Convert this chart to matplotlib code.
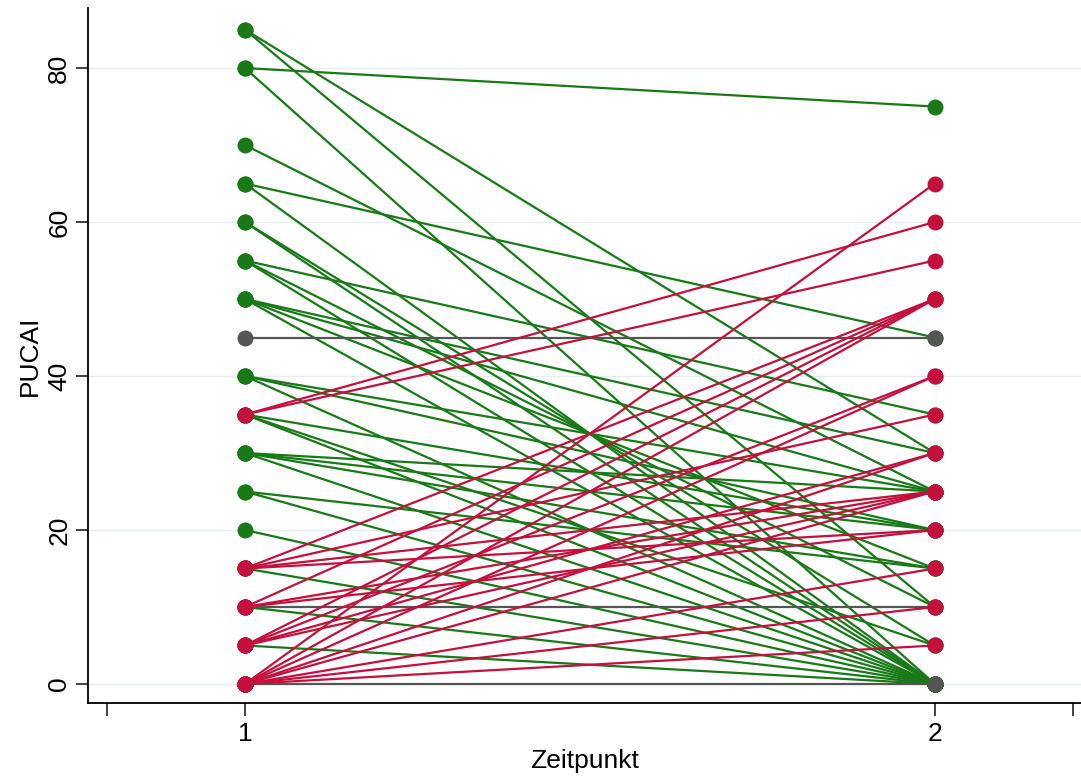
import numpy as np
import matplotlib
matplotlib.use("Agg")
import matplotlib.pyplot as plt

plt.rcParams['font.family'] = ['Liberation Sans', 'DejaVu Sans']

# PUCAI zum Zeitpunkt 1 und 2
# abnahme (grün)
gruen_t1 = [85, 85, 80, 80, 70, 65, 65, 60, 60, 55, 55, 55, 50, 50, 50, 50,
            40, 40, 40, 35, 35, 35, 30, 30, 30, 30, 25, 25, 20, 15, 10, 5]
gruen_t2 = [30, 10, 75, 0, 25, 45, 0, 5, 0, 35, 10, 0, 30, 25, 15, 0,
            25, 20, 0, 20, 5, 0, 25, 20, 15, 0, 15, 0, 0, 0, 0, 0]
# gleich (grau)
grau_t1 = [45, 10, 0]
grau_t2 = [45, 10, 0]
# zunahme (rot)
rot_t1 = [0, 0, 0, 0, 0, 0, 0, 0, 5, 5, 5, 5, 10, 10, 10, 15, 15, 15, 15, 35, 35]
rot_t2 = [65, 50, 40, 30, 25, 15, 10, 5, 50, 40, 30, 25, 50, 25, 20, 50, 35, 25, 20, 60, 55]

zeitpunkte = [1, 2]
yticks = [0, 20, 40, 60, 80]

c_gruen = '#177a17'
c_rot = '#c4103c'
c_grau = '#555555'

fig = plt.figure(figsize=(10.81, 7.82), dpi=100)
ax = fig.add_axes([88 / 1081, 79 / 782, 1 - 88 / 1081, (703 - 8) / 782])

for y in yticks:
    ax.axhline(y, color='#e4eef0', lw=1.0, zorder=0)

# reihenfolge: grün, grau, rot (rot liegt oben)
for t1s, t2s, col in [(gruen_t1, gruen_t2, c_gruen),
                      (grau_t1, grau_t2, c_grau),
                      (rot_t1, rot_t2, c_rot)]:
    for a, b in zip(t1s, t2s):
        ax.plot(zeitpunkte, [a, b], color=col, lw=1.6, marker='o',
                markersize=11.5, markeredgewidth=0, zorder=2)

ax.set_xlim(0.7725, 2.212)
ax.set_ylim(-2.47, 87.8)
ax.set_xticks([0.8, 1, 2, 2.2])
ax.set_xticklabels(['', '1', '2', ''])
ax.set_yticks(yticks)
ax.set_yticklabels([str(v) for v in yticks], rotation=90, va='center')
ax.tick_params(axis='both', labelsize=19, length=9, width=1.2, color='#222222')
ax.tick_params(axis='x', pad=5)
ax.tick_params(axis='y', pad=3)

ax.spines['top'].set_visible(False)
ax.spines['right'].set_visible(False)
ax.spines['left'].set_linewidth(1.3)
ax.spines['bottom'].set_linewidth(1.3)

ax.set_xlabel('Zeitpunkt', fontsize=19, labelpad=2)
ax.set_ylabel('PUCAI', fontsize=19, labelpad=4)

fig.savefig('out.png', dpi=100)
